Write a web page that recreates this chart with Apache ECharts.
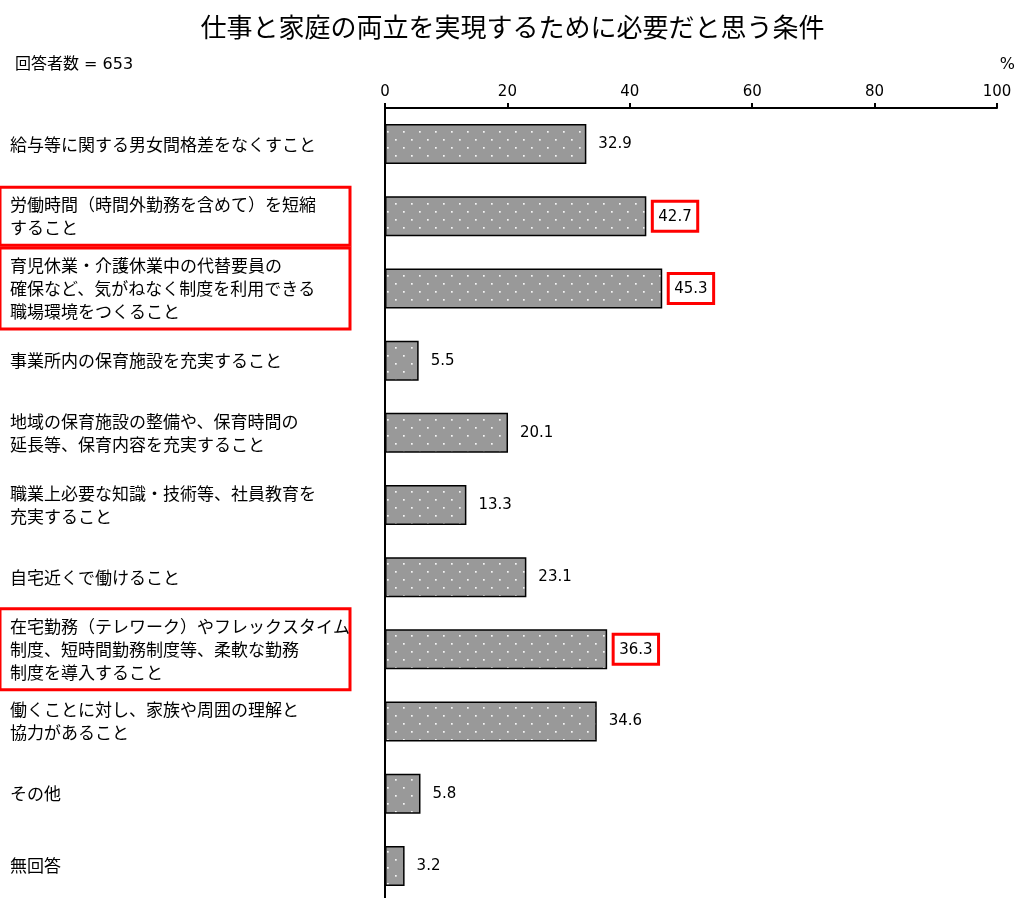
<!DOCTYPE html>
<html><head><meta charset="utf-8">
<script src="https://cdn.jsdelivr.net/npm/echarts@6/dist/echarts.min.js"></script>
<style>html,body{margin:0;padding:0;background:#fff}#c{width:1025px;height:898px}</style>
</head><body><div id="c"></div>
<script>
const titleText = '仕事と家庭の両立を実現するために必要だと思う条件';
const respondentsText = '回答者数 = 653';
const unitText = '%';
const categories = [
  '給与等に関する男女間格差をなくすこと',
  '労働時間（時間外勤務を含めて）を短縮\nすること',
  '育児休業・介護休業中の代替要員の\n確保など、気がねなく制度を利用できる\n職場環境をつくること',
  '事業所内の保育施設を充実すること',
  '地域の保育施設の整備や、保育時間の\n延長等、保育内容を充実すること',
  '職業上必要な知識・技術等、社員教育を\n充実すること',
  '自宅近くで働けること',
  '在宅勤務（テレワーク）やフレックスタイム\n制度、短時間勤務制度等、柔軟な勤務\n制度を導入すること',
  '働くことに対し、家族や周囲の理解と\n協力があること',
  'その他',
  '無回答'
];
const values = [32.9, 42.7, 45.3, 5.5, 20.1, 13.3, 23.1, 36.3, 34.6, 5.8, 3.2];
const highlighted = [1, 2, 7];
const axisTicks = [0, 20, 40, 60, 80, 100];

// dotted pattern
const pc = document.createElement('canvas');
pc.width = 16; pc.height = 16;
const pctx = pc.getContext('2d');
pctx.fillStyle = '#999999';
pctx.fillRect(0, 0, 16, 16);
pctx.fillStyle = '#f6f6f6';
pctx.fillRect(3, 3, 1.7, 1.7);
pctx.fillRect(11, 11, 1.7, 1.7);

const chart = echarts.init(document.getElementById('c'));
const font = '"Noto Sans CJK JP", sans-serif';
const numFont = '"DejaVu Sans", "Noto Sans CJK JP", sans-serif';

const yData = categories.map((c, i) => {
  if (highlighted.includes(i)) {
    return {
      value: c,
      textStyle: {
        align: 'left',
        borderColor: '#ff0000', borderWidth: 3,
        padding: [6, 6, 6, 10],
        width: 334
      }
    };
  }
  return c;
});

const barData = values.map((v, i) => {
  if (highlighted.includes(i)) {
    return { value: v, label: { distance: 6 } };
  }
  return v;
});

chart.setOption({
  animation: false,
  title: [
    { text: titleText, left: 'center', top: 9,
      textStyle: { fontFamily: font, fontSize: 26, fontWeight: 'normal', color: '#000' } },
    { text: respondentsText, left: 10, top: 52,
      textStyle: { fontFamily: numFont, fontSize: 16, fontWeight: 'normal', color: '#000' } },
    { text: unitText, right: 5, top: 52,
      textStyle: { fontFamily: numFont, fontSize: 16, fontWeight: 'normal', color: '#000' } }
  ],
  grid: { left: 385, right: 28, top: 108, height: 794, containLabel: false, outerBoundsMode: 'none' },
  xAxis: {
    type: 'value', position: 'top', min: 0, max: 100, interval: 20,
    axisLine: { show: true, lineStyle: { color: '#000', width: 2 } },
    axisTick: { show: true, inside: false, length: 5, lineStyle: { color: '#000', width: 2 } },
    axisLabel: { color: '#000', fontFamily: numFont, fontSize: 15, margin: 8,
      formatter: v => axisTicks.includes(v) ? String(v) : '' },
    splitLine: { show: false }
  },
  yAxis: {
    type: 'category', inverse: true, data: yData,
    axisLine: { show: true, lineStyle: { color: '#000', width: 2 } },
    axisTick: { show: false },
    axisLabel: { color: '#000', fontFamily: font, fontSize: 17, lineHeight: 23,
      align: 'left', margin: 385, padding: [0, 0, 0, 10] }
  },
  series: [{
    type: 'bar', data: barData, barWidth: 40,
    itemStyle: { color: { image: pc, repeat: 'repeat' }, borderColor: '#000', borderWidth: 1.5 },
    label: { show: true, position: 'right', distance: 12, color: '#000',
      fontFamily: numFont, fontSize: 15,
      formatter: p => highlighted.includes(p.dataIndex) ? '{box|' + p.value + '}' : String(p.value),
      rich: {
        box: { borderColor: '#ff0000', borderWidth: 3, padding: [8, 6, 7, 6], lineHeight: 18,
          fontFamily: numFont, fontSize: 15, color: '#000' }
      }
    }
  }]
});
</script></body></html>
